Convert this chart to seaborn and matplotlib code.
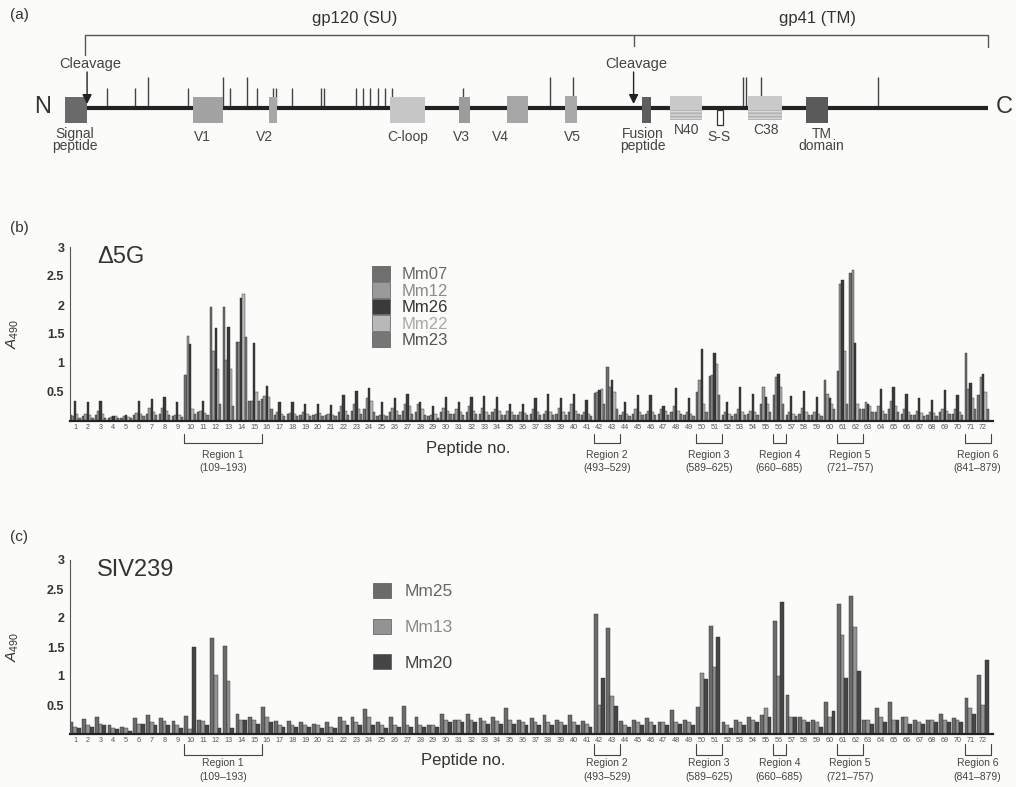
import matplotlib
matplotlib.use("Agg")
import matplotlib.pyplot as plt
import seaborn as sns
import pandas as pd
from matplotlib.patches import Rectangle, Patch

# ---------------- data ----------------
peptides = [str(p) for p in range(1, 73)]

sera_b = ["Mm07", "Mm12", "Mm26", "Mm22", "Mm23"]
colors_b = ["#6f6f6f", "#9a9a9a", "#3a3a3a", "#b8b8b8", "#777777"]
textcol_b = ["#6a6a6a", "#8a8a8a", "#333333", "#a8a8a8", "#555555"]

mm07 = [.10, .08, .10, .06, .06, .10, .12, .12, .08, .80,
        .15, 1.97, 1.97, 1.37, .35, .38, .10, .12, .10, .10,
        .10, .15, .18, .20, .08, .15, .18, .15, .08, .15,
        .12, .15, .12, .15, .10, .10, .12, .12, .12, .15,
        .10, .48, .93, .10, .12, .12, .12, .15, .10, .50,
        .78, .10, .12, .12, .30, .45, .10, .12, .10, .71,
        .87, 2.55, .20, .15, .20, .12, .10, .10, .15, .12,
        1.17, .45]
mm12 = [.08, .12, .18, .07, .08, .14, .22, .22, .10, 1.47,
        .18, 1.20, 1.05, 1.37, .35, .43, .15, .14, .15, .12,
        .12, .25, .30, .40, .10, .22, .30, .30, .10, .22,
        .20, .25, .22, .20, .18, .15, .20, .18, .22, .30,
        .15, .50, .58, .15, .20, .18, .20, .25, .15, .70,
        .80, .15, .20, .18, .58, .75, .15, .22, .15, .46,
        2.37, 2.60, .33, .25, .35, .20, .18, .15, .20, .20,
        .55, .75]
mm26 = [.35, .32, .35, .09, .11, .35, .38, .42, .32, 1.32,
        .35, 1.60, 1.62, 2.12, 1.34, .61, .33, .33, .30, .30,
        .28, .44, .51, .57, .33, .40, .47, .33, .25, .42,
        .33, .41, .43, .41, .30, .30, .40, .46, .40, .46,
        .36, .53, .71, .33, .44, .44, .25, .57, .40, 1.25,
        1.18, .32, .58, .47, .41, .81, .43, .51, .41, .40,
        2.43, 1.35, .30, .56, .58, .46, .40, .36, .54, .44,
        .65, .81]
mm22 = [.12, .10, .12, .08, .07, .12, .15, .18, .10, .20,
        .14, .90, .90, 2.19, .50, .42, .12, .12, .12, .14,
        .10, .18, .20, .35, .10, .18, .25, .20, .12, .18,
        .15, .18, .16, .18, .15, .14, .15, .15, .15, .18,
        .12, .56, .50, .12, .15, .15, .18, .18, .12, .30,
        .98, .12, .15, .15, .30, .58, .12, .15, .12, .30,
        1.21, .30, .25, .18, .25, .15, .14, .14, .18, .15,
        .40, .50]
mm23 = [.06, .05, .06, .05, .05, .08, .10, .10, .07, .12,
        .10, .30, .25, 1.44, .35, .20, .08, .08, .08, .08,
        .08, .10, .12, .15, .08, .10, .12, .10, .06, .12,
        .10, .12, .10, .10, .10, .10, .10, .10, .10, .12,
        .08, .30, .20, .08, .10, .10, .10, .12, .08, .15,
        .45, .08, .10, .10, .15, .30, .08, .10, .08, .20,
        .30, .20, .15, .12, .15, .10, .08, .08, .12, .10,
        .20, .20]

sera_c = ["Mm25", "Mm13", "Mm20"]
colors_c = ["#6b6b6b", "#939393", "#454545"]
textcol_c = ["#666666", "#8a8a8a", "#444444"]

mm25 = [.20, .26, .30, .15, .12, .28, .32, .28, .22, .31,
        .25, 1.65, 1.52, .35, .30, .47, .22, .22, .20, .18,
        .20, .30, .30, .43, .20, .30, .48, .30, .15, .35,
        .25, .35, .28, .30, .45, .25, .28, .32, .25, .32,
        .22, 2.07, 1.83, .22, .25, .28, .20, .41, .25, .47,
        1.87, .20, .25, .30, .32, 1.95, .68, .30, .25, .55,
        2.25, 2.38, .25, .44, .55, .30, .25, .25, .35, .28,
        .62, 1.02]
mm13 = [.12, .15, .18, .10, .10, .18, .20, .22, .15, .08,
        .22, 1.02, .91, .25, .25, .30, .15, .15, .15, .15,
        .12, .22, .20, .30, .15, .15, .15, .15, .15, .25,
        .25, .25, .22, .22, .25, .20, .20, .20, .20, .20,
        .18, .50, .65, .15, .20, .20, .20, .20, .20, 1.05,
        1.15, .15, .20, .25, .45, 1.00, .30, .25, .20, .30,
        1.70, 1.85, .25, .30, .25, .30, .20, .25, .25, .25,
        .45, .50]
mm20 = [.10, .12, .15, .08, .05, .18, .15, .15, .10, 1.50,
        .15, .10, .10, .25, .18, .20, .12, .12, .12, .10,
        .10, .15, .15, .15, .10, .12, .12, .12, .12, .20,
        .20, .20, .18, .18, .18, .15, .15, .15, .15, .15,
        .12, .97, .48, .12, .15, .15, .15, .18, .15, .95,
        1.68, .10, .15, .20, .30, 2.27, .30, .20, .12, .40,
        .96, 1.08, .18, .20, .25, .18, .18, .20, .20, .20,
        .35, 1.28]

# immunodominant regions: first peptide, last peptide, amino-acid span
region_first = [10, 42, 50, 56, 61, 71]
region_last = [15, 43, 51, 56, 62, 72]
region_span = ["109–193", "493–529", "589–625", "660–685", "721–757", "841–879"]

yticks = [0.5, 1, 1.5, 2, 2.5, 3]
ytick_labels = ["0.5", "1", "1.5", "2", "2.5", "3"]

# ---- Env schematic (amino-acid positions) ----
env_length = 879
domain_names = ["Signal\npeptide", "V1", "V2", "C-loop", "V3", "V4", "V5",
                "Fusion\npeptide", "N40", "S-S", "C38", "TM\ndomain"]
domain_start = [1, 123, 195, 310, 376, 422, 477, 550, 577, 621, 651, 706]
domain_end = [22, 151, 203, 344, 386, 442, 488, 559, 607, 627, 683, 727]
domain_color = ["#6a6a6a", "#a3a3a3", "#a8a8a8", "#c6c6c6", "#9c9c9c", "#a6a6a6",
                "#a9a9a9", "#5e5e5e", "#c9c9c9", "#ffffff", "#c9c9c9", "#5a5a5a"]
domain_label_x = [10, 132, 191, 327, 378, 415, 484, 551, 592, 623, 668, 721]
glyc_sites = [41, 68, 80, 118, 151, 158, 174, 184, 199, 202, 217, 245, 247,
              278, 285, 291, 299, 305, 312, 380, 462, 484, 646, 649, 663, 775]
glyc_tall = [80, 151, 174, 462, 484, 646, 649, 663, 775]
cleavage_sites = [22, 542]

# ---------------- style ----------------
sns.set_style("white")
plt.rcParams["font.family"] = ["Liberation Sans", "DejaVu Sans"]
plt.rcParams["mathtext.fontset"] = "custom"
plt.rcParams["mathtext.it"] = "Liberation Sans:italic"
plt.rcParams["mathtext.rm"] = "Liberation Sans"

BG = "#fbfbf9"
INK = "#333333"
W, H = 1016, 787
fig = plt.figure(figsize=(W / 100, H / 100), dpi=100)
fig.patch.set_facecolor(BG)


def fx(px):
    return px / W


def fy(py):
    return 1 - py / H


# ---------------- panel (a) ----------------
ax_a = fig.add_axes([0, fy(165), 1, 165 / H])
ax_a.set_facecolor(BG)
ax_a.set_xlim(1 - 65 / 1.051, 1 + 951 / 1.051)
ax_a.set_ylim(165, 0)
ax_a.axis("off")

ax_a.plot([1, env_length], [108, 108], color="#222222", lw=3.0,
          solid_capstyle="butt", zorder=2)
tops = [77 if s in glyc_tall else 88 for s in glyc_sites]
ax_a.vlines(glyc_sites, tops, 108, color="#444444", lw=1.0, zorder=1)

for name, s, e, c in zip(domain_names, domain_start, domain_end, domain_color):
    if name == "S-S":
        ax_a.add_patch(Rectangle((s, 110), e - s, 15, facecolor="white",
                                 edgecolor="#333333", lw=0.9, zorder=3))
        continue
    if name in ("N40", "C38"):
        ax_a.add_patch(Rectangle((s, 96), e - s, 24, facecolor=c,
                                 edgecolor="none", zorder=3))
        ax_a.add_patch(Rectangle((s, 110), e - s, 10, facecolor="#b4b4b4",
                                 edgecolor="#d8d8d8", hatch="-----", lw=0, zorder=4))
        continue
    top, h = (96, 27) if name in ("V4", "V5") else (97, 26)
    ax_a.add_patch(Rectangle((s, top), e - s, h, facecolor=c,
                             edgecolor="none", zorder=3))

for name, lx in zip(domain_names, domain_label_x):
    if "\n" in name:
        ax_a.text(lx, 127, name, ha="center", va="top", fontsize=10,
                  color="#444444", linespacing=0.85)
    else:
        ly = 130 if name in ("N40", "C38") else 137
        ax_a.text(lx, ly, name, ha="center", va="center", fontsize=10, color="#444444")

# bracket for gp120 / gp41
ax_a.plot([20, 20, env_length, env_length], [55, 35, 35, 47], color="#555555", lw=1)
ax_a.plot([cleavage_sites[1]] * 2, [35, 46], color="#555555", lw=1)
ax_a.text(277, 18, "gp120 (SU)", ha="center", va="center", fontsize=12, color=INK)
ax_a.text(717, 18, "gp41 (TM)", ha="center", va="center", fontsize=12, color=INK)
for cs in cleavage_sites:
    ax_a.text(cs + 3, 64, "Cleavage", ha="center", va="center", fontsize=10.5,
              color="#444444")
    ax_a.annotate("", xy=(cs, 104), xytext=(cs, 72),
                  arrowprops=dict(arrowstyle="-|>", color="#222222", lw=1,
                                  mutation_scale=14, shrinkA=0, shrinkB=0), zorder=5)
ax_a.text(-20, 107, "N", ha="center", va="center", fontsize=17, color=INK)
ax_a.text(895, 107, "C", ha="center", va="center", fontsize=17, color=INK)

# ---------------- bar panels ----------------
df_b = pd.DataFrame({"Peptide": peptides * 5,
                     "A490": mm07 + mm12 + mm26 + mm22 + mm23,
                     "Serum": sum([[s] * 72 for s in sera_b], [])})
df_c = pd.DataFrame({"Peptide": peptides * 3,
                     "A490": mm25 + mm13 + mm20,
                     "Serum": sum([[s] * 72 for s in sera_c], [])})


def bar_panel(ax, df, sera, colors, brk, txt):
    sns.barplot(data=df, x="Peptide", y="A490", hue="Serum", order=peptides,
                hue_order=sera, palette=colors, width=0.9, saturation=1,
                edgecolor="#2a2a2a", linewidth=0.3, legend=False, ax=ax, zorder=2)
    ax.set_facecolor(BG)
    ax.set_xlim(-0.39, 71.77)
    ax.set_ylim(0, 3)
    ax.set_yticks(yticks)
    ax.set_yticklabels(ytick_labels, fontsize=9, fontweight="bold", color=INK)
    ax.set_xticks(range(72))
    ax.set_xticklabels(peptides, fontsize=5.2, color="#555555")
    ax.tick_params(axis="x", length=0, pad=2)
    ax.tick_params(axis="y", direction="in", length=3, width=0.8, color="#555555", pad=4)
    for s in ("top", "right"):
        ax.spines[s].set_visible(False)
    ax.spines["left"].set_color("#555555")
    ax.spines["left"].set_linewidth(0.8)
    ax.spines["bottom"].set_color("#222222")
    ax.spines["bottom"].set_linewidth(1.6)
    ax.set_xlabel("")
    ax.set_ylabel(r"$A_{490}$", fontsize=11, color=INK)
    ax.yaxis.set_label_coords(-49 / 923, 0.5)
    tr = ax.get_xaxis_transform()
    hpx = 174.0
    for k, (f, l, span) in enumerate(zip(region_first, region_last, region_span)):
        x0, x1 = f - 1 - 0.45, l - 1 + 0.6
        ax.plot([x0, x0, x1, x1], [-brk[0] / hpx, -brk[1] / hpx, -brk[1] / hpx, -brk[0] / hpx],
                color="#444444", lw=0.8, transform=tr, clip_on=False)
        ax.text((x0 + x1) / 2, -txt[0] / hpx, f"Region {k + 1}",
                ha="center", va="center", fontsize=7.5, color="#444444",
                transform=tr, clip_on=False)
        ax.text((x0 + x1) / 2, -txt[1] / hpx, f"({span})", ha="center", va="center",
                fontsize=7.5, color="#444444", transform=tr, clip_on=False)


ax_b = fig.add_axes([fx(70), fy(421), 923 / W, 174 / H])
bar_panel(ax_b, df_b, sera_b, colors_b, (13, 22), (34, 47))
ax_c = fig.add_axes([fx(70), fy(734), 923 / W, 174 / H])
bar_panel(ax_c, df_c, sera_c, colors_c, (10, 21), (29, 43))

leg_b = ax_b.legend(handles=[Patch(facecolor=c, edgecolor="#555555", lw=0.5) for c in colors_b],
                    labels=sera_b, labelcolor=textcol_b, fontsize=12, handlelength=1.1,
                    handleheight=1.05, labelspacing=0, handletextpad=0.7, borderpad=0,
                    borderaxespad=0, frameon=False, loc="upper left",
                    bbox_to_anchor=(fx(372), fy(266)), bbox_transform=fig.transFigure)
leg_c = ax_c.legend(handles=[Patch(facecolor=c, edgecolor="#555555", lw=0.5) for c in colors_c],
                    labels=sera_c, labelcolor=textcol_c, fontsize=12.5, handlelength=1.05,
                    handleheight=0.95, labelspacing=1.1, handletextpad=0.75, borderpad=0,
                    borderaxespad=0, frameon=False, loc="upper left",
                    bbox_to_anchor=(fx(373), fy(583)), bbox_transform=fig.transFigure)

fig.text(fx(97), fy(257), "Δ5G", fontsize=17, color=INK, va="center", ha="left")
fig.text(fx(97), fy(570), "SIV239", fontsize=17, color=INK, va="center", ha="left")
fig.text(fx(468), fy(449), "Peptide no.", fontsize=12, color=INK, ha="center", va="center")
fig.text(fx(463), fy(761), "Peptide no.", fontsize=12, color=INK, ha="center", va="center")
fig.text(fx(10), fy(15), "(a)", fontsize=11, color=INK, va="center")
fig.text(fx(10), fy(228), "(b)", fontsize=11, color=INK, va="center")
fig.text(fx(10), fy(537), "(c)", fontsize=11, color=INK, va="center")

fig.savefig("out.png", dpi=100, facecolor=BG)
